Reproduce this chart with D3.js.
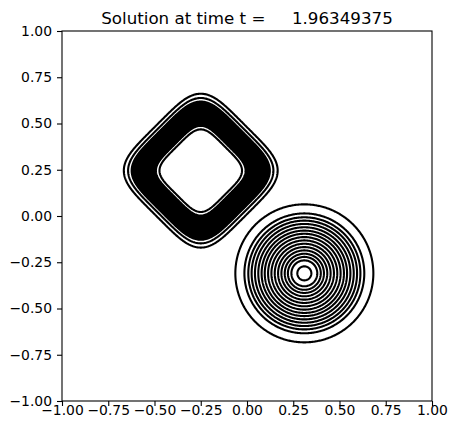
<!DOCTYPE html>
<html>
<head>
<meta charset="utf-8">
<script src="https://cdn.jsdelivr.net/npm/d3@7"></script>
<style>
  body { margin: 0; background: #fff; }
  text { font-family: "DejaVu Sans", sans-serif; }
</style>
</head>
<body>
<div id="chart"></div>
<script>
// ---- data ----
var titleText = "Solution at time t =     1.96349375";
var tickValues = [-1, -0.75, -0.5, -0.25, 0, 0.25, 0.5, 0.75, 1];

// rotated rounded square (ring) : centre and contour positions (edge half-width, units)
var ringCenter = [-0.25, 0.245];
var ringPower = 4.5;
var ringLevels = [0.343, 0.324,
                  0.308, 0.304, 0.300, 0.296, 0.292, 0.288, 0.284, 0.280, 0.276, 0.272,
                  0.268, 0.264, 0.260, 0.256, 0.252, 0.248, 0.244, 0.240, 0.236, 0.232,
                  0.228, 0.224, 0.220, 0.216, 0.212, 0.208, 0.204, 0.200,
                  0.184];

// cone : centre and contour radii (units)
var coneCenter = [0.31, -0.31];
var coneLevels = [0.373, 0.324, 0.303, 0.285, 0.267, 0.249, 0.231, 0.214, 0.196,
                  0.178, 0.160, 0.142, 0.124, 0.106, 0.089, 0.070, 0.038];

// ---- layout ----
var width = 457, height = 435;
var plotLeft = 62, plotRight = 432, plotTop = 31, plotBottom = 401;
var n = 400;

var x = d3.scaleLinear().domain([-1, 1]).range([plotLeft, plotRight]);
var y = d3.scaleLinear().domain([-1, 1]).range([plotBottom, plotTop]);

var svg = d3.select("#chart").append("svg")
	.attr("width", width)
	.attr("height", height);

svg.append("defs").append("clipPath")
	.attr("id", "plotclip")
	.append("rect")
	.attr("x", plotLeft).attr("y", plotTop)
	.attr("width", plotRight - plotLeft).attr("height", plotBottom - plotTop);

// grid -> data coordinates (cell centres)
var gx = d3.scaleLinear().domain([0, n]).range([-1, 1]);
var gy = d3.scaleLinear().domain([0, n]).range([-1, 1]);

var ringValues = new Float64Array(n * n);
var coneValues = new Float64Array(n * n);
for (var j = 0; j < n; j++) {
	for (var i = 0; i < n; i++) {
		var px = gx(i + 0.5), py = gy(j + 0.5);
		var dx = px - ringCenter[0], dy = py - ringCenter[1];
		var u = Math.abs(dx + dy) / Math.SQRT2, v = Math.abs(dx - dy) / Math.SQRT2;
		ringValues[j * n + i] = -Math.pow(Math.pow(u, ringPower) + Math.pow(v, ringPower), 1 / ringPower);
		var cx = px - coneCenter[0], cy = py - coneCenter[1];
		coneValues[j * n + i] = -Math.sqrt(cx * cx + cy * cy);
	}
}

var toScreen = d3.geoTransform({
	point: function(a, b) {
		this.stream.point(x(gx(a)), y(gy(b)));
	}
});
var path = d3.geoPath(toScreen);

var contourGroup = svg.append("g").attr("clip-path", "url(#plotclip)");

function drawContours(values, levels) {
	var gen = d3.contours()
		.size([n, n])
		.thresholds(levels.map(function(d) { return -d; }));
	contourGroup.selectAll(null)
		.data(gen(values))
		.enter().append("path")
		.attr("d", path)
		.attr("fill", "none")
		.attr("stroke", "black")
		.attr("stroke-width", 2.1)
		.attr("stroke-linejoin", "round");
}

drawContours(ringValues, ringLevels);
drawContours(coneValues, coneLevels);

// ---- axes ----
var fmt = d3.format(".2f");

var xAxis = svg.append("g")
	.attr("transform", "translate(0," + plotBottom + ")")
	.call(d3.axisBottom(x).tickValues(tickValues).tickFormat(fmt).tickSize(5).tickSizeOuter(0));
xAxis.selectAll("text")
	.attr("y", 13.5).attr("dy", 0)
	.attr("fill", "black")
	.style("font-size", "13.9px");

var yAxis = svg.append("g")
	.attr("transform", "translate(" + plotLeft + ",0)")
	.call(d3.axisLeft(y).tickValues(tickValues).tickFormat(fmt).tickSize(5).tickPadding(5).tickSizeOuter(0));
yAxis.selectAll("text")
	.attr("fill", "black")
	.style("font-size", "13.9px");

svg.selectAll(".domain").remove();
svg.selectAll(".tick line").attr("stroke", "black").attr("stroke-width", 1.1);

// frame
svg.append("rect")
	.attr("x", plotLeft).attr("y", plotTop)
	.attr("width", plotRight - plotLeft).attr("height", plotBottom - plotTop)
	.attr("fill", "none")
	.attr("stroke", "black")
	.attr("stroke-width", 1.1);

// title
svg.append("text")
	.attr("x", (plotLeft + plotRight) / 2)
	.attr("y", 24)
	.attr("text-anchor", "middle")
	.style("font-size", "16.7px")
	.style("white-space", "pre")
	.text(titleText);
</script>
</body>
</html>
